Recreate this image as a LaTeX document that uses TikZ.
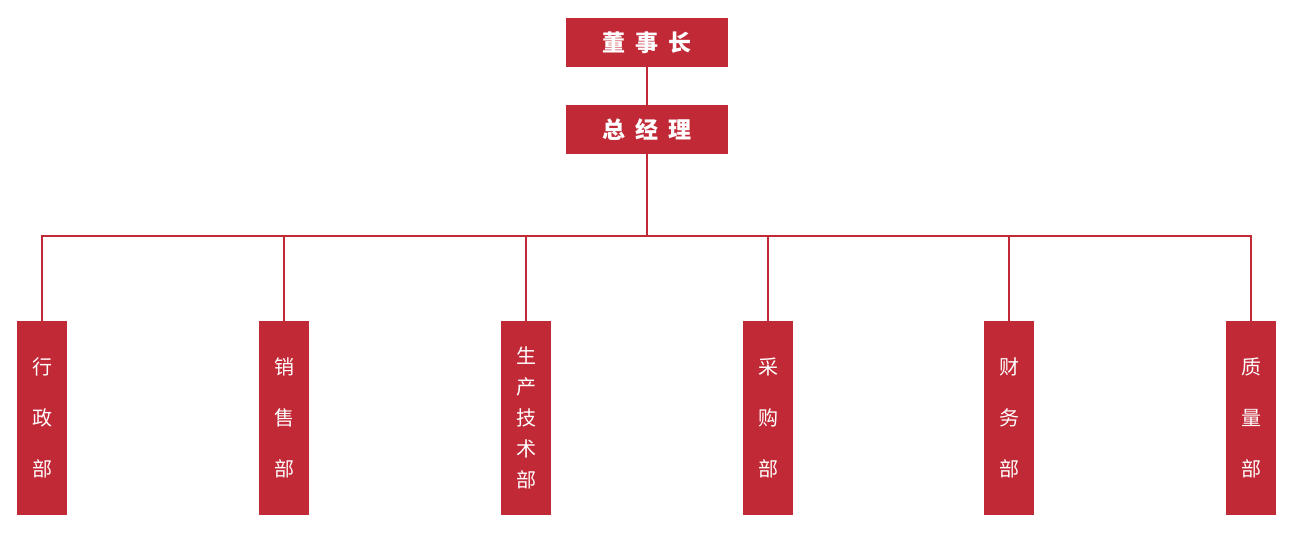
\documentclass[tikz,border=0pt]{standalone}
\usepackage{fontspec}
\newfontfamily\cjk{Noto Sans CJK SC}
\definecolor{brand}{RGB}{194,41,55}
\tikzset{
  topbox/.style={fill=brand, minimum width=162pt, minimum height=49pt, inner sep=0pt, text=white, font=\cjk\bfseries\fontsize{23}{23}\selectfont},
  deptbox/.style={fill=brand, minimum width=50pt, minimum height=194pt, inner sep=0pt, text=white, align=center, font=\cjk\fontsize{20}{31}\selectfont},
  link/.style={draw=brand, line width=2pt}
}
\begin{document}
\begin{tikzpicture}[x=1pt,y=-1pt]
\useasboundingbox (0,0) rectangle (1291,553);
\node[topbox] (chair) at (647,42.5) {董\hspace{10pt}事\hspace{10pt}长};
\node[topbox] (gm) at (647,129.5) {总\hspace{10pt}经\hspace{10pt}理};
\coordinate (hub) at (647,236);
\node[deptbox] (d1) at (42,418) {行\\[20pt]政\\[20pt]部};
\node[deptbox] (d2) at (284,418) {销\\[20pt]售\\[20pt]部};
\node[deptbox] (d3) at (526,418) {生\\产\\技\\术\\部};
\node[deptbox] (d4) at (768,418) {采\\[20pt]购\\[20pt]部};
\node[deptbox] (d5) at (1009,418) {财\\[20pt]务\\[20pt]部};
\node[deptbox] (d6) at (1251,418) {质\\[20pt]量\\[20pt]部};
\draw[link] (chair) -- (gm);
\draw[link] (gm) -- (hub);
\foreach \d in {d1,d2,d3,d4,d5,d6}{
  \draw[link] (hub) -| (\d.north);
}
\end{tikzpicture}
\end{document}
